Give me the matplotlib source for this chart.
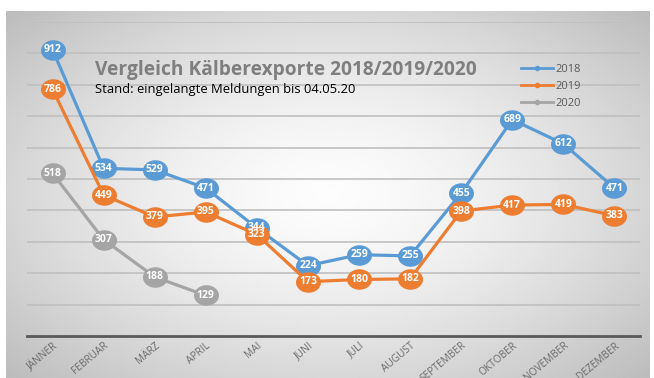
import matplotlib.pyplot as plt
import numpy as np
from matplotlib.path import Path
from matplotlib.transforms import Affine2D

# Kälberexporte pro Monat
monate = ['JÄNNER', 'FEBRUAR', 'MÄRZ', 'APRIL', 'MAI', 'JUNI', 'JULI',
          'AUGUST', 'SEPTEMBER', 'OKTOBER', 'NOVEMBER', 'DEZEMBER']
werte_2018 = [912, 534, 529, 471, 344, 224, 259, 255, 455, 689, 612, 471]
werte_2019 = [786, 449, 379, 395, 323, 173, 180, 182, 398, 417, 419, 383]
werte_2020 = [518, 307, 188, 129]

farben = {'2018': '#5B9BD5', '2019': '#ED7D31', '2020': '#A5A5A5'}

plt.rcParams['font.family'] = ['Open Sans', 'DejaVu Sans']

fig = plt.figure(figsize=(6.54, 3.78), dpi=100)

# Hintergrund mit radialem Verlauf
bg = fig.add_axes([6 / 654, 0, 644 / 654, 367 / 378])
yy, xx = np.mgrid[-1:1:200j, -1:1:300j]
r = np.sqrt((xx * 0.95) ** 2 + (yy * 0.9) ** 2)
grad = 0.99 - 0.17 * np.clip(r, 0, 1.4) ** 1.5
bg.imshow(grad, cmap='gray', vmin=0, vmax=1, aspect='auto', extent=(0, 1, 0, 1))
bg.set_axis_off()

ax = fig.add_axes([27 / 654, 42 / 378, 613 / 654, 314 / 378])
ax.set_facecolor('none')

ellipse = Path.unit_circle().transformed(Affine2D().scale(1.0, 0.82))

x = np.arange(len(monate))
for jahr, werte in [('2018', werte_2018), ('2019', werte_2019), ('2020', werte_2020)]:
    xs = x[:len(werte)]
    ax.plot(xs, werte, color=farben[jahr], lw=2.3, marker=ellipse, markersize=18,
            markeredgewidth=0, label=jahr, zorder=3)
    for xi, v in zip(xs, werte):
        ax.text(xi, v, str(v), color='white', fontsize=7.5, fontweight='bold',
                ha='center', va='center', zorder=4)

ax.set_xlim(-0.5, len(monate) - 0.5)
ax.set_ylim(0, 1000)
ax.set_yticks(np.arange(100, 1001, 100))
ax.yaxis.grid(True, color='#BFBFBF', lw=1.2)
ax.set_axisbelow(True)
ax.tick_params(axis='y', left=False, labelleft=False)
ax.tick_params(axis='x', length=0, pad=3)
ax.set_xticks(x)
ax.set_xticklabels(monate, rotation=40, ha='right', rotation_mode='anchor',
                   fontsize=7.3, color='#6A6A6A')
for s in ['top', 'right', 'left']:
    ax.spines[s].set_visible(False)
ax.spines['bottom'].set_color('#595959')
ax.spines['bottom'].set_linewidth(2)

fig.text(95 / 654, 1 - 70 / 378, 'Vergleich Kälberexporte 2018/2019/2020',
         fontsize=13.8, fontweight='bold', color='#7F7F7F', va='center')
fig.text(95 / 654, 1 - 89 / 378, 'Stand: eingelangte Meldungen bis 04.05.20',
         fontsize=9.4, color='black', va='center')

# Legende
leg_handles = []
for jahr in ['2018', '2019', '2020']:
    h, = ax.plot([], [], color=farben[jahr], lw=2, marker='o', markersize=3)
    leg_handles.append(h)
leg = ax.legend(leg_handles, ['2018', '2019', '2020'], loc='upper left',
                bbox_to_anchor=(511 / 654, 1 - 54 / 378), bbox_transform=fig.transFigure,
                frameon=False, fontsize=8, handlelength=2.9, labelspacing=0.55,
                handletextpad=0.2)
for t in leg.get_texts():
    t.set_color('#595959')

fig.savefig('out.png', dpi=100)
